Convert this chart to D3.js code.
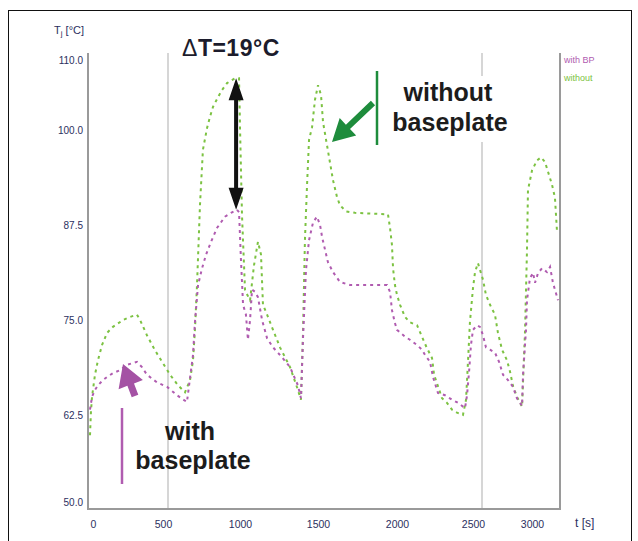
<!DOCTYPE html>
<html>
<head>
<meta charset="utf-8">
<script src="https://cdn.jsdelivr.net/npm/d3@7"></script>
<style>
  body { margin: 0; background: #fff; }
  svg { display: block; font-family: 'Liberation Sans', Arial, sans-serif; }
  .tick text { fill: #2b3060; font-size: 10px; }
  .label { font-weight: bold; fill: #1c1c1c; font-size: 25px; text-anchor: middle; }
</style>
</head>
<body>
<svg id="chart" width="638" height="541"></svg>
<script>
(function () {

const colorWith = '#b05cb0',
  colorWithout = '#7cc242';

// x ticks (time, s) and y ticks (junction temperature)
const xTicks = [0, 500, 1000, 1500, 2000, 2500, 3000];
const yTicks = [50, 62.5, 75, 87.5, 100, 110];
const yTickLabels = ['50.0', '62.5', '75.0', '87.5', '100.0', '110.0'];

// without baseplate
const withoutTime = [0,6,13,32,51,77,109,147,212,256,301,321,365,417,468,514,568,615,649,669,682,696,716,736,764,784,804,838,865,899,953,980,987,1000,1020,1053,1079,1105,1125,1138,1165,1204,1250,1316,1368,1388,1401,1414,1428,1441,1461,1480,1500,1519,1532,1557,1576,1595,1620,1639,1677,1734,1943,1956,1968,1975,1987,2000,2018,2047,2076,2118,2147,2176,2206,2218,2235,2265,2294,2324,2353,2388,2406,2418,2429,2447,2459,2476,2509,2536,2573,2618,2645,2682,2727,2755,2782,2818,2864,2891,2909,2918,2955,3000,3026,3052,3072,3098,3117,3130];
const withoutTemp = [59.6,62.9,64.9,67.8,69.7,71.7,73.3,74.1,75.0,75.4,75.7,75.0,73.0,71.0,69.3,67.8,66.4,65.5,67.1,69.7,73.7,79.6,90.1,97.4,100.3,101.9,103.3,104.7,105.7,106.7,107.4,107.4,100.0,88.8,78.9,77.6,82.2,85.3,83.6,77.0,75.7,73.7,71.4,68.8,65.8,64.5,73.0,85.5,92.8,98.7,100.4,104.3,106.4,105.0,101.1,98.0,95.7,93.4,91.2,90.1,89.3,89.1,88.9,87.1,84.9,81.8,79.6,78.3,77.0,75.4,74.7,74.3,72.8,71.3,70.0,67.8,66.7,64.7,64.1,63.2,62.8,62.5,64.5,69.7,74.7,79.2,81.3,82.5,80.3,78.3,77.0,75.7,73.3,71.1,69.7,68.2,66.3,64.9,63.6,73.5,84.2,92.1,94.7,96.0,96.4,95.8,94.5,92.8,91.1,86.8];

// with baseplate
const withTime = [0,13,32,51,83,109,147,192,237,301,333,365,429,494,561,628,649,669,682,703,730,757,791,831,885,926,966,980,993,1007,1026,1039,1053,1066,1086,1105,1132,1165,1204,1263,1316,1368,1388,1401,1421,1441,1467,1493,1513,1526,1545,1563,1595,1639,1702,1937,1956,1968,1987,2000,2047,2076,2118,2147,2165,2194,2212,2241,2282,2324,2359,2400,2412,2424,2435,2447,2471,2488,2509,2536,2573,2618,2655,2691,2736,2782,2818,2864,2873,2900,2909,2936,2964,2982,3007,3033,3065,3085,3104,3137];
const withTemp = [63.2,64.9,65.8,66.4,67.1,67.5,68.0,68.4,69.1,69.5,68.8,67.8,66.8,66.2,65.1,64.2,67.4,70.4,74.7,79.6,81.8,83.6,85.3,87.1,88.6,89.1,89.5,89.2,82.9,77.0,75.7,72.4,75.0,79.0,78.7,78.0,75.0,72.6,71.4,70.1,68.8,66.4,64.7,72.4,81.6,85.5,87.8,88.6,87.5,85.9,84.2,82.6,81.3,80.0,79.6,79.6,78.7,76.3,74.6,73.7,72.8,72.4,71.7,71.1,70.4,69.5,67.5,65.4,65.1,64.5,64.1,63.4,65.1,68.2,71.7,73.7,74.3,74.1,73.0,71.4,71.1,70.7,69.5,67.8,67.1,66.2,64.7,63.7,67.8,73.7,77.6,80.5,81.2,79.9,81.2,81.8,81.3,82.0,79.9,77.6];

// the delta T annotation (time, upper temp, lower temp)
const deltaT = {t: 960, hi: 107.4, lo: 89.5};

const svg = d3.select('#chart');

// the original axis is not evenly spaced, so use piecewise scales
const x = d3.scaleLinear()
  .domain([0, 500, 1000, 1500, 2000, 2500, 3000, 3150])
  .range([90, 168, 242, 318, 397, 482, 537, 560]);
const y = d3.scaleLinear()
  .domain([50, 62.5, 75, 87.5, 100, 110, 112])
  .range([502, 415, 320, 225, 130, 60, 46]);

const plot = {left: 88, right: 560, top: 53, bottom: 509};

// outer frame
svg.append('rect')
  .attr('x', 8.5).attr('y', 10.5)
  .attr('width', 623).attr('height', 545)
  .attr('fill', 'none')
  .attr('stroke', '#111')
  .attr('stroke-width', 1);

// grid lines at 500 and 2500
svg.selectAll('.grid')
  .data([500, 2500])
  .enter().append('line')
    .attr('class', 'grid')
    .attr('x1', function(d) { return x(d); })
    .attr('x2', function(d) { return x(d); })
    .attr('y1', plot.top)
    .attr('y2', plot.bottom)
    .attr('stroke', '#c8c8c8')
    .attr('stroke-width', 1.5);

// plot box
svg.append('path')
  .attr('d', 'M' + plot.left + ',' + plot.top + 'V' + plot.bottom + 'H' + plot.right + 'V' + plot.top)
  .attr('fill', 'none')
  .attr('stroke', '#9a9a9a')
  .attr('stroke-width', 2);

// axes
const xLabelShift = [3, -5, -2, 0, 0, -9, -5];
const xAxis = svg.append('g')
  .attr('transform', 'translate(0,' + plot.bottom + ')')
  .call(d3.axisBottom(x).tickValues(xTicks).tickSize(0).tickPadding(12).tickFormat(d3.format('d')));
xAxis.select('.domain').remove();
xAxis.selectAll('text')
  .style('font-size', '10.5px')
  .attr('dx', function(d, i) { return xLabelShift[i]; });

const yAxis = svg.append('g')
  .attr('transform', 'translate(' + (plot.left - 4) + ',0)')
  .call(d3.axisLeft(y).tickValues(yTicks).tickSize(0).tickPadding(1)
    .tickFormat(function(d, i) { return yTickLabels[i]; }));
yAxis.select('.domain').remove();

svg.append('text')
  .attr('x', 54).attr('y', 34)
  .attr('fill', '#2b3060')
  .style('font-size', '11px')
  .html('T<tspan dy="2" font-size="8">j</tspan><tspan dy="-2"> [°C]</tspan>');

svg.append('text')
  .attr('x', 575).attr('y', 527)
  .attr('fill', '#2b3060')
  .style('font-size', '12px')
  .text('t [s]');

// legend
svg.append('text')
  .attr('x', 564).attr('y', 63)
  .attr('fill', colorWith)
  .style('font-size', '9px')
  .text('with BP');
svg.append('text')
  .attr('x', 564).attr('y', 81)
  .attr('fill', colorWithout)
  .style('font-size', '9px')
  .text('without');

// series
const line = d3.line()
  .x(function(d) { return x(d[0]); })
  .y(function(d) { return y(d[1]); });

function makeSeries(times, temps, color) {
  const pts = d3.zip(times, temps);
  svg.append('path')
    .datum(pts)
    .attr('d', line)
    .attr('fill', 'none')
    .attr('stroke', color)
    .attr('stroke-width', 2)
    .attr('stroke-dasharray', '3,4');
}

makeSeries(withoutTime, withoutTemp, colorWithout);
makeSeries(withTime, withTemp, colorWith);

// arrows
function arrowPath(x1, y1, x2, y2, shaftW, headL, headW) {
  const dx = x2 - x1, dy = y2 - y1;
  const len = Math.sqrt(dx * dx + dy * dy);
  const ux = dx / len, uy = dy / len, nx = -uy, ny = ux;
  const bx = x2 - ux * headL, by = y2 - uy * headL;
  const p = [
    [x1 + nx * shaftW / 2, y1 + ny * shaftW / 2],
    [bx + nx * shaftW / 2, by + ny * shaftW / 2],
    [bx + nx * headW / 2, by + ny * headW / 2],
    [x2, y2],
    [bx - nx * headW / 2, by - ny * headW / 2],
    [bx - nx * shaftW / 2, by - ny * shaftW / 2],
    [x1 - nx * shaftW / 2, y1 - ny * shaftW / 2]
  ];
  return 'M' + p.map(function(d) { return d[0].toFixed(1) + ',' + d[1].toFixed(1); }).join('L') + 'Z';
}

// delta T double arrow
const ax = x(deltaT.t), aTop = y(deltaT.hi), aBot = y(deltaT.lo), aMid = (aTop + aBot) / 2;
svg.append('path').attr('d', arrowPath(ax, aMid, ax, aTop, 4, 22, 15)).attr('fill', '#111');
svg.append('path').attr('d', arrowPath(ax, aMid, ax, aBot, 4, 22, 15)).attr('fill', '#111');

svg.append('text')
  .attr('x', 182).attr('y', 56)
  .attr('fill', '#1c1c2c')
  .style('font-size', '23px')
  .style('font-weight', 'bold')
  .style('letter-spacing', '0.5px')
  .html('<tspan font-weight="normal">Δ</tspan>T=19°C');

// without baseplate label
svg.append('rect')
  .attr('x', 388).attr('y', 76)
  .attr('width', 124).attr('height', 66)
  .attr('fill', '#fff');
svg.append('line')
  .attr('x1', 377).attr('x2', 377)
  .attr('y1', 71).attr('y2', 145)
  .attr('stroke', '#1e8c3c')
  .attr('stroke-width', 2.5);
svg.append('path')
  .attr('d', arrowPath(373, 103, 332, 142, 6, 22, 24))
  .attr('fill', '#1e8c3c');
svg.append('text').attr('class', 'label').attr('x', 448).attr('y', 101).text('without');
svg.append('text').attr('class', 'label').attr('x', 450).attr('y', 131).text('baseplate');

// with baseplate label
svg.append('line')
  .attr('x1', 122).attr('x2', 122)
  .attr('y1', 408).attr('y2', 484)
  .attr('stroke', colorWith)
  .attr('stroke-width', 2.5);
svg.append('path')
  .attr('d', arrowPath(135, 396, 123, 364, 7, 22, 26))
  .attr('fill', '#a452a4');
svg.append('text').attr('class', 'label').attr('x', 190).attr('y', 440).text('with');
svg.append('text').attr('class', 'label').attr('x', 193).attr('y', 469).text('baseplate');

})();
</script>
</body>
</html>
